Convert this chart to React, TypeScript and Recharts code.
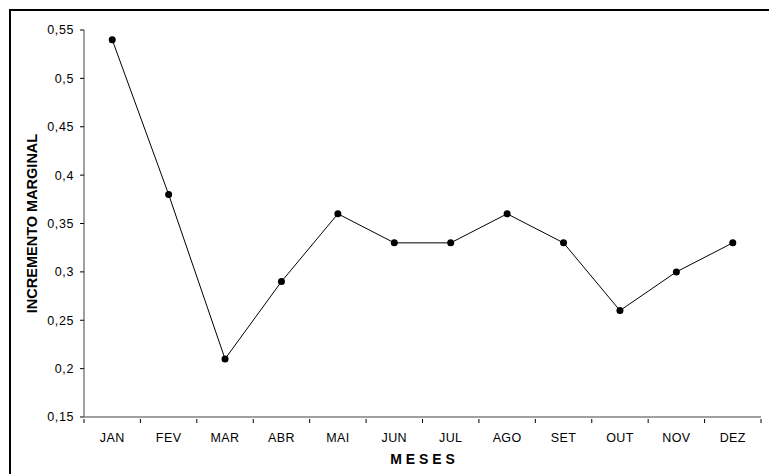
import React from "react";
import { ComposedChart, Line, XAxis, YAxis } from "recharts";

const months = ["JAN", "FEV", "MAR", "ABR", "MAI", "JUN", "JUL", "AGO", "SET", "OUT", "NOV", "DEZ"];
const increments = [0.54, 0.38, 0.21, 0.29, 0.36, 0.33, 0.33, 0.36, 0.33, 0.26, 0.3, 0.33];
const yTicks = [0.15, 0.2, 0.25, 0.3, 0.35, 0.4, 0.45, 0.5, 0.55];

// each month sits in the middle of its slot; tick marks go on the slot boundaries
const data = months.map((mes, i) => ({ mes, pos: i + 0.5, valor: increments[i] }));
const xTicks = [0, ...data.flatMap((d, i) => [d.pos, i + 1])];

const font = "'Liberation Sans', Arial, sans-serif";
const axisGray = "#808080";

const fmt = (v: number) => String(v).replace(".", ",");

const MonthTick = (props: any) => {
  const { x, y, payload } = props;
  const v = payload.value as number;
  if (Number.isInteger(v)) {
    return <line x1={x} x2={x} y1={y} y2={y + 4} stroke="#000" strokeWidth={1} />;
  }
  return (
    <text x={x} y={y + 14} dy="0.71em" textAnchor="middle" fill="#000" fontSize={12.5} fontFamily={font} letterSpacing={0.4}>
      {months[Math.floor(v)]}
    </text>
  );
};

export default function App() {
  return (
    <div style={{ position: "absolute", left: 0, top: 0, width: 769, height: 474, background: "#fff", overflow: "hidden", fontFamily: font }}>
      <div
        style={{
          position: "absolute",
          left: 9,
          top: 9,
          width: 800,
          height: 500,
          borderTop: "2px solid #000",
          borderLeft: "2px solid #000",
        }}
      />
      <div style={{ position: "absolute", left: 0, top: 0 }}>
        <ComposedChart width={769} height={474} data={data} margin={{ top: 30, right: 8, left: 24, bottom: 27 }}>
          <XAxis
            type="number"
            dataKey="pos"
            domain={[0, 12]}
            ticks={xTicks}
            interval={0}
            tick={<MonthTick />}
            tickLine={false}
            height={30}
            tickSize={0}
            stroke={axisGray}
            strokeWidth={1.5}
            label={{
              value: "M E S E S",
              position: "insideBottom",
              offset: -17,
              fill: "#000",
              fontSize: 14,
              fontWeight: "bold",
              fontFamily: font,
            }}
          />
          <YAxis
            domain={[0.15, 0.55]}
            ticks={yTicks}
            tickFormatter={fmt}
            width={60}
            stroke={axisGray}
            strokeWidth={1.5}
            tickLine={{ stroke: "#000", strokeWidth: 1 }}
            tickSize={4}
            tickMargin={6}
            tick={{ fill: "#000", fontSize: 12.5, fontFamily: font, letterSpacing: 0.6 }}
            label={{
              value: "INCREMENTO MARGINAL",
              angle: -90,
              position: "insideLeft",
              offset: 0,
              dx: 8,
              fill: "#000",
              fontSize: 14.5,
              fontWeight: "bold",
              fontFamily: font,
              style: { textAnchor: "middle" },
            }}
          />
          <Line
            dataKey="valor"
            stroke="#000"
            strokeWidth={1}
            dot={{ r: 3.5, fill: "#000", stroke: "#000", strokeWidth: 0 }}
            isAnimationActive={false}
          />
        </ComposedChart>
      </div>
    </div>
  );
}
